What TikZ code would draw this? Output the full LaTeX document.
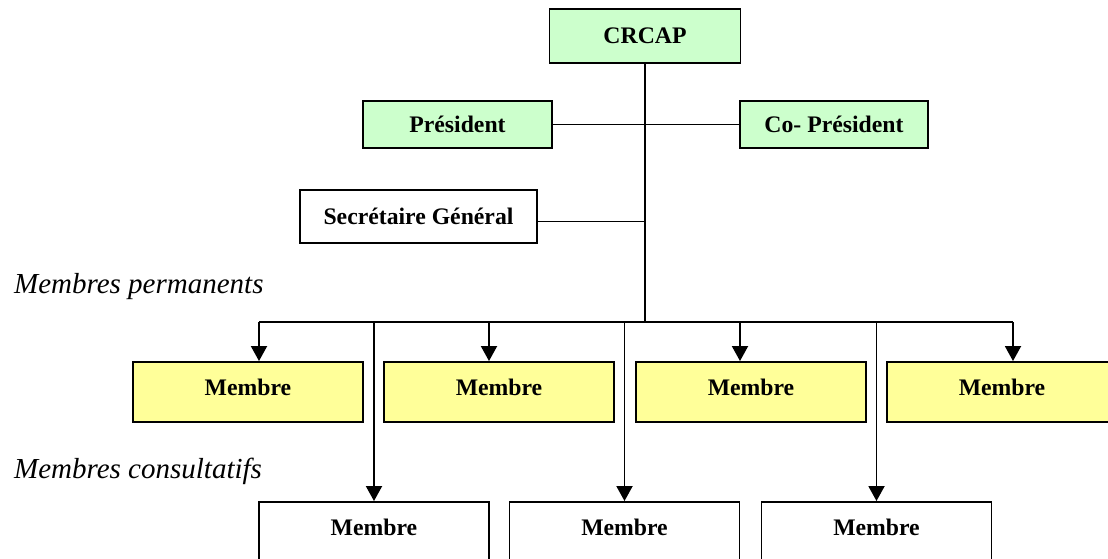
\documentclass[tikz,border=0pt]{standalone}
\usepackage{fontspec}
\setmainfont{Liberation Serif}
\usepackage{xcolor}
\usetikzlibrary{arrows.meta,positioning}

\definecolor{boxgreen}{HTML}{CCFFCC}
\definecolor{boxyellow}{HTML}{FFFF99}

\tikzset{
  box/.style={draw, line width=1.1pt, minimum height=0.94cm, inner sep=0pt,
    font=\fontsize{13.5}{16}\selectfont\bfseries},
  greenbox/.style={box, fill=boxgreen},
  membre/.style={box, minimum width=4.6cm, minimum height=1.2cm,
    text height=0.3cm, text depth=0.18cm},
  wire/.style={line width=1.1pt},
  arr/.style={wire, -{Triangle[length=0.3cm,width=0.32cm]}},
  grouplabel/.style={anchor=base west, font=\fontsize{16.5}{20}\selectfont\itshape}
}

\begin{document}
\begin{tikzpicture}

\useasboundingbox (0,0) rectangle (22.16,11.16);
\clip (0,0) rectangle (22.16,11.16);

%-------------------------------------------------
% Bureau
%-------------------------------------------------

\node[greenbox, minimum width=3.82cm, minimum height=1.08cm] (crcap) at (12.9,10.44) {CRCAP};

\node[greenbox, minimum width=3.78cm] (pres) at (9.15,8.67) {Président};
\node[greenbox, minimum width=3.76cm] (copres) at (16.68,8.67) {Co- Président};

\node[box, fill=white, minimum width=4.74cm, minimum height=1.06cm] (secgen) at (8.37,6.83) {Secrétaire Général};

%-------------------------------------------------
% Group labels
%-------------------------------------------------

\node[grouplabel] (lblperm) at (0.16,5.30) {Membres permanents};
\node[grouplabel] (lblcons) at (0.16,1.60) {Membres consultatifs};

%-------------------------------------------------
% Membres permanents
%-------------------------------------------------

\node[membre, fill=boxyellow] (perm1) at (4.96,3.32) {Membre};
\node[membre, fill=boxyellow] (perm2) at (9.98,3.32) {Membre};
\node[membre, fill=boxyellow] (perm3) at (15.02,3.32) {Membre};
\node[membre, fill=boxyellow] (perm4) at (20.04,3.32) {Membre};

%-------------------------------------------------
% Membres consultatifs
%-------------------------------------------------

\node[membre, fill=white] (cons1) at (7.48,0.52) {Membre};
\node[membre, fill=white] (cons2) at (12.49,0.52) {Membre};
\node[membre, fill=white] (cons3) at (17.53,0.52) {Membre};

%-------------------------------------------------
% Links
%-------------------------------------------------

\coordinate (busL) at (5.18,4.72);
\coordinate (busR) at (20.26,4.72);

% Trunk
\draw[wire] (crcap.south) -- (crcap.south |- busL);
\draw[wire] (pres.east) -- (copres.west);
\draw[wire] ([yshift=-0.1cm]secgen.east) -- ([yshift=-0.1cm]secgen.east -| crcap.south);

% Bus
\draw[wire] (busL) -- (busR);

\draw[arr] (busL) -- (busL |- perm1.north);
\draw[arr] ([xshift=-0.2cm]perm2.north |- busL) -- ([xshift=-0.2cm]perm2.north);
\draw[arr] ([xshift=-0.22cm]perm3.north |- busL) -- ([xshift=-0.22cm]perm3.north);
\draw[arr] (busR) -- (busR |- perm4.north);

\draw[arr] (cons1.north |- busL) -- (cons1.north);
\draw[arr] (cons2.north |- busL) -- (cons2.north);
\draw[arr] (cons3.north |- busL) -- (cons3.north);

\end{tikzpicture}
\end{document}
